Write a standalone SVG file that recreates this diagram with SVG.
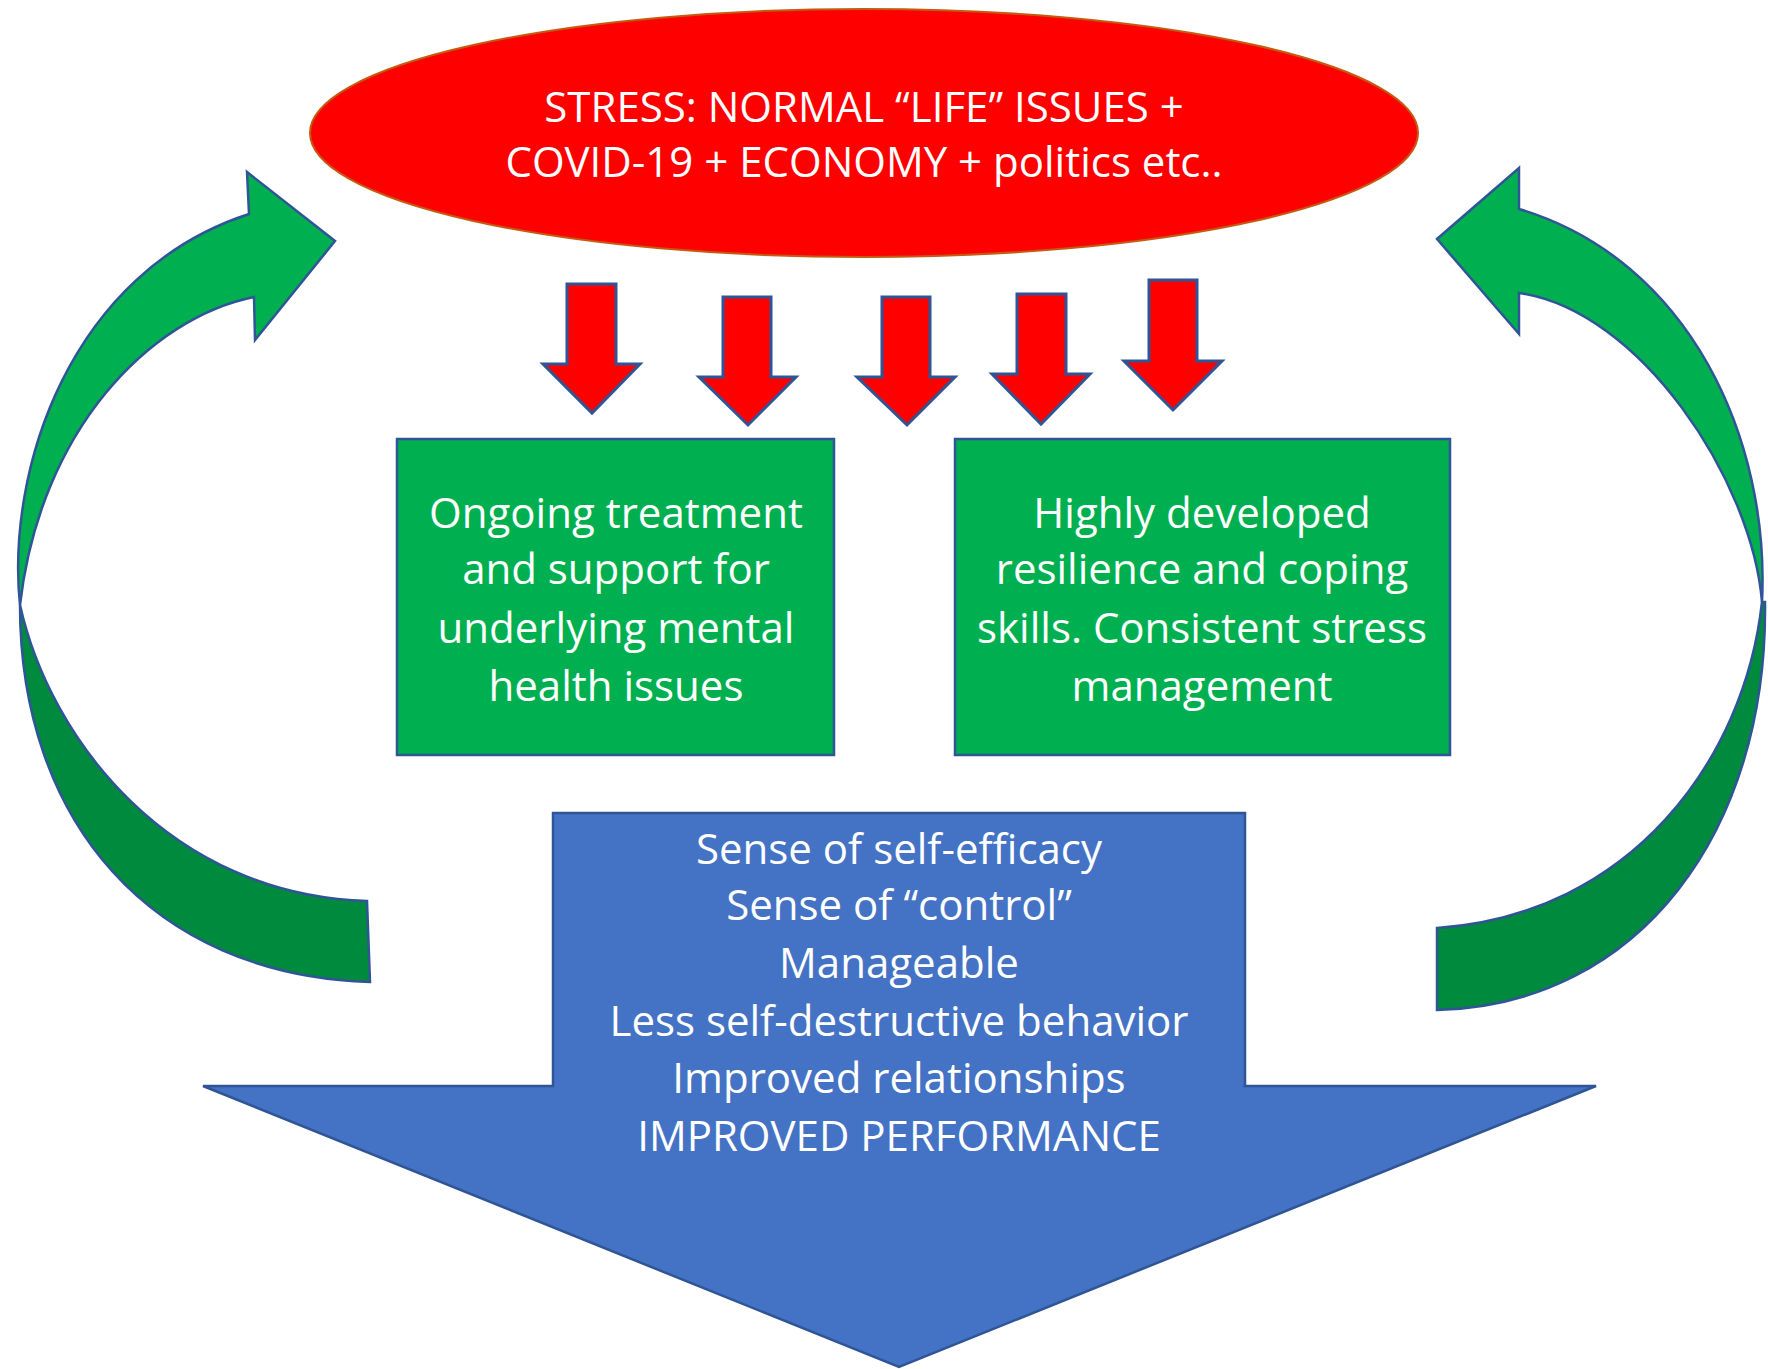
<svg xmlns="http://www.w3.org/2000/svg" width="1768" height="1369" viewBox="0 0 1768 1369">
<style>
.t{font-family:"Open Sans","Liberation Sans",sans-serif;fill:#fff;text-anchor:middle}
.e{font-size:42px}
.b{font-size:42px}
.s{font-size:42px}
.red{fill:#ff0000;stroke:#2f5597;stroke-width:3;stroke-linejoin:miter}
.lg{fill:#00b050;stroke:#2f5597;stroke-width:2.5}
.dg{fill:#008a3e;stroke:#2f5597;stroke-width:2.5}
.box{fill:#00b050;stroke:#2f5597;stroke-width:2.5}
</style>
<rect width="1768" height="1369" fill="#fff"/>
<g id="connectors">
  <g id="left-loop">
    <path class="dg" d="M20,605 C50,740 170,895 367,901 L370,982 C150,975 20,820 20,605 Z"/>
    <path class="lg" d="M249,214 L247,172 L335,241 L255,340 L254,297 C150,318 40,430 20,605 C6,470 70,272 249,214 Z"/>
  </g>
  <g id="right-loop">
    <path class="dg" d="M1762,602 C1745,760 1630,915 1437,928 L1437,1010 C1640,1005 1768,830 1765,602 Z"/>
    <path class="lg" d="M1519,209 L1519,168 L1437,239 L1519,334 L1519,293 C1640,310 1752,480 1762,602 C1770,440 1690,260 1519,209 Z"/>
  </g>
  <g id="down-arrows">
    <path class="red" d="M567,284 H616 V364 H640 L592,413 L543,364 H567 Z"/>
    <path class="red" d="M723,297 H771 V377 H796 L748,425 L699,377 H723 Z"/>
    <path class="red" d="M882,297 H930 V377 H955 L907,425 L857,377 H882 Z"/>
    <path class="red" d="M1017,294 H1066 V374 H1090 L1041,424 L992,374 H1017 Z"/>
    <path class="red" d="M1149,280 H1197 V361 H1222 L1173,410 L1124,361 H1149 Z"/>
  </g>
</g>
<g id="stress">
  <ellipse cx="864" cy="133" rx="554" ry="124" fill="#ff0000" stroke="#c55a11" stroke-width="2"/>
  <text class="t e" x="864" y="122">STRESS: NORMAL “LIFE” ISSUES +</text>
  <text class="t e" x="864" y="177">COVID-19 + ECONOMY + politics etc..</text>
</g>
<g id="treatment">
  <rect class="box" x="397" y="439" width="437" height="316"/>
  <text class="t b" x="616" y="528">Ongoing treatment</text>
  <text class="t b" x="616" y="584">and support for</text>
  <text class="t b" x="616" y="643">underlying mental</text>
  <text class="t b" x="616" y="701">health issues</text>
</g>
<g id="resilience">
  <rect class="box" x="955" y="439" width="495" height="316"/>
  <text class="t b" x="1202" y="528">Highly developed</text>
  <text class="t b" x="1202" y="584">resilience and coping</text>
  <text class="t b" x="1202" y="643">skills. Consistent stress</text>
  <text class="t b" x="1202" y="701">management</text>
</g>
<g id="outcomes">
  <path d="M553,813 H1245 V1086 H1596 L899,1367 L203,1086 H553 Z" fill="#4472c4" stroke="#2f5597" stroke-width="2.5"/>
  <text class="t s" x="899" y="864">Sense of self-efficacy</text>
  <text class="t s" x="899" y="920">Sense of “control”</text>
  <text class="t s" x="899" y="978">Manageable</text>
  <text class="t s" x="899" y="1036">Less self-destructive behavior</text>
  <text class="t s" x="899" y="1093">Improved relationships</text>
  <text class="t s" x="899" y="1151">IMPROVED PERFORMANCE</text>
</g>
</svg>
